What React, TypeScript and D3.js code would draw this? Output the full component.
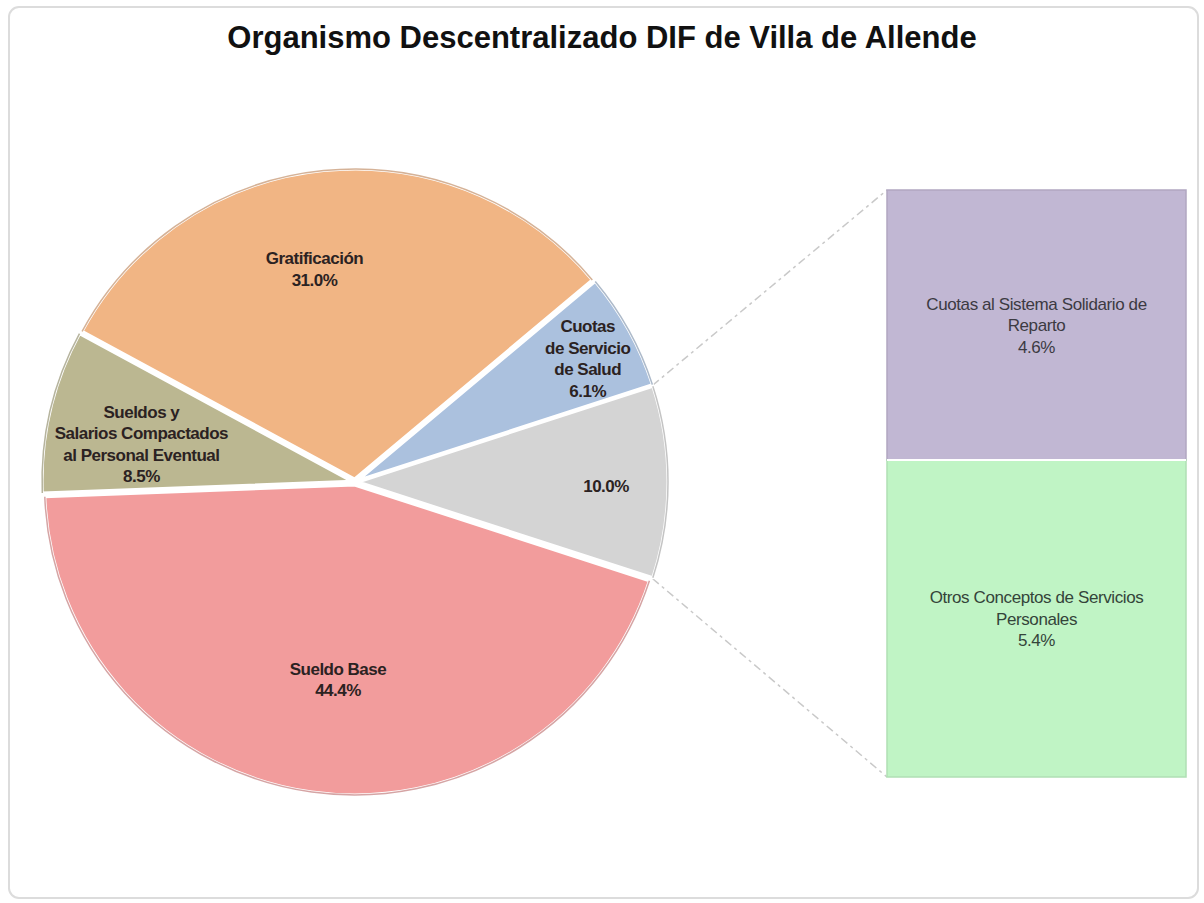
import * as d3 from 'd3';
import React from 'react';

// values (percent of total)
const title = 'Organismo Descentralizado DIF de Villa de Allende';
const pieNames = ['Sueldo Base', 'Sueldos y Salarios Compactados al Personal Eventual', 'Gratificación', 'Cuotas de Servicio de Salud'];
const pieValues = [44.4, 8.5, 31.0, 6.1];
const barNames = ['Cuotas al Sistema Solidario de Reparto', 'Otros Conceptos de Servicios Personales'];
const barValues = [4.6, 5.4];

// how the labels wrap in the picture
const pieLines = [['Sueldo Base'], ['Sueldos y', 'Salarios Compactados', 'al Personal Eventual'], ['Gratificación'], ['Cuotas', 'de Servicio', 'de Salud'], []];
const barLines = [['Cuotas al Sistema Solidario de', 'Reparto'], ['Otros Conceptos de Servicios', 'Personales']];

const pieColors = ['#f29c9c', '#bbb791', '#f1b584', '#abc1de', '#d4d4d4'];
const barColors = ['#c1b7d3', '#c0f4c5'];
// label distance from centre, as a share of the radius, and a small angle nudge (degrees)
const labelRadius = [0.64, 0.7, 0.7, 0.85, 0.81];
const labelNudge = [-3, -3, -5, 1, 1];

const W = 1204, H = 903;
const cx = 355, cy = 482, R = 310;
const barX = 887, barW = 299, barTop = 190, barBottom = 777;
const font = '"Liberation Sans", Arial, sans-serif';

export default function App() {
    const otherTotal = d3.sum(barValues);
    const total = d3.sum(pieValues) + otherTotal;
    const values = [...pieValues, otherTotal];
    const start = Math.PI / 2 + (otherTotal / total) * Math.PI;
    const slices = d3.pie<number>().sort(null).value((d) => d)
        .startAngle(start).endAngle(start + 2 * Math.PI)(values);
    const arc = d3.arc<d3.PieArcDatum<number>>().innerRadius(0).outerRadius(R);
    const rim = d3.arc<d3.PieArcDatum<number>>().innerRadius(R).outerRadius(R);
    const pct = (v) => d3.format('.1%')(v / total);

    const y = d3.scaleLinear().domain([0, otherTotal]).range([barTop, barBottom]);
    const stacks = barValues.map((v, i) => ({ v, y0: d3.sum(barValues.slice(0, i)), y1: d3.sum(barValues.slice(0, i + 1)) }));

    const other = slices[slices.length - 1];
    const explode = 3;
    const corner = (a) => [cx + (R + explode) * Math.sin(a), cy - (R + explode) * Math.cos(a)];
    const [tx, ty] = corner(other.startAngle);
    const [bx, by] = corner(other.endAngle);
    const lh = 21.5;

    return (
        <svg width={W} height={H} style={{ position: 'absolute', left: 0, top: 0, background: '#fff' }} fontFamily={font}>
            <rect x={9} y={7} width={1189} height={891} rx={10} fill="#fff" stroke="#dcdcdc" strokeWidth={2} />
            <text x={602} y={48} textAnchor="middle" fontSize={31} fontWeight="bold" fill="#111">{title}</text>

            <line x1={tx} y1={ty} x2={barX} y2={y(0)} stroke="#c9c9c9" strokeWidth={1.5} strokeDasharray="8 4 3 4" />
            <line x1={bx} y1={by} x2={barX} y2={y(otherTotal)} stroke="#c9c9c9" strokeWidth={1.5} strokeDasharray="8 4 3 4" />

            <g>
                {slices.map((s, i) => {
                    const mid = (s.startAngle + s.endAngle) / 2;
                    const ox = explode * Math.sin(mid), oy = -explode * Math.cos(mid);
                    return (
                        <g key={i} transform={`translate(${cx + ox},${cy + oy})`}>
                            <path d={arc(s)} fill={pieColors[i]} stroke="#fff" strokeWidth={3} strokeLinejoin="round" />
                            <path d={rim(s)} fill="none" stroke={d3.color(pieColors[i]).darker(0.6).formatHex()} strokeWidth={1.5} opacity={0.7} />
                        </g>
                    );
                })}
            </g>

            <g fontWeight="bold" fontSize={17} letterSpacing={-0.5} fill="#2b2222" textAnchor="middle">
                {slices.map((s, i) => {
                    const a = (s.startAngle + s.endAngle) / 2 + (labelNudge[i] * Math.PI) / 180;
                    const r = R * labelRadius[i];
                    const lx = cx + r * Math.sin(a), ly = cy - r * Math.cos(a);
                    const lines = [...pieLines[i], pct(s.data)];
                    const y0 = ly - ((lines.length - 1) * lh) / 2;
                    return (
                        <text key={i} x={lx} y={y0} dominantBaseline="central">
                            {lines.map((t, j) => (
                                <tspan key={j} x={lx} y={y0 + j * lh}>{t}</tspan>
                            ))}
                        </text>
                    );
                })}
            </g>

            <g>
                {stacks.map((d, i) => {
                    const top = y(d.y0), bot = y(d.y1);
                    const lx = barX + barW / 2;
                    const lines = [...barLines[i], pct(d.v)];
                    const y0 = (top + bot) / 2 - ((lines.length - 1) * lh) / 2;
                    return (
                        <g key={i}>
                            <rect x={barX} y={top} width={barW} height={bot - top} fill={barColors[i]}
                                stroke={d3.color(barColors[i]).darker(0.25).formatHex()} strokeWidth={1.5} />
                            <text x={lx} y={y0} textAnchor="middle" fontSize={17} letterSpacing={-0.4} fill={i === 0 ? '#3c3a42' : '#34443a'} dominantBaseline="central">
                                {lines.map((t, j) => (
                                    <tspan key={j} x={lx} y={y0 + j * lh}>{t}</tspan>
                                ))}
                            </text>
                        </g>
                    );
                })}
                <line x1={barX} x2={barX + barW} y1={y(stacks[0].y1)} y2={y(stacks[0].y1)} stroke="#fff" strokeWidth={2} />
            </g>
        </svg>
    );
}
